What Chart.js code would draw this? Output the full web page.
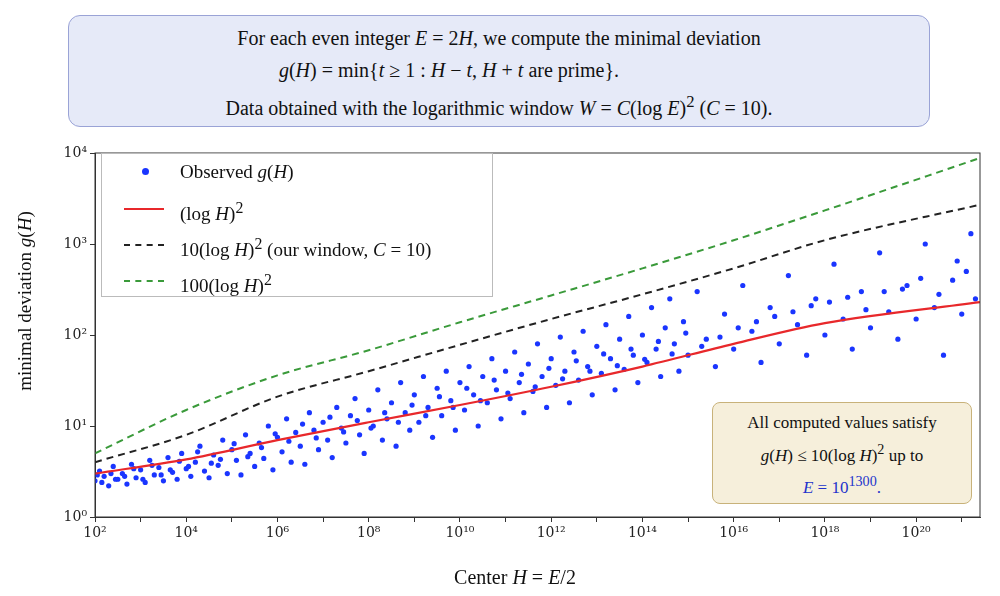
<!DOCTYPE html>
<html><head><meta charset="utf-8">
<script src="https://cdn.jsdelivr.net/npm/chart.js@4"></script>
<style>
body{margin:0;background:#fff;font-family:"Liberation Serif",serif;}
#wrap{position:relative;width:1000px;height:596px;}
canvas{position:absolute;left:0;top:0;}
.box{position:absolute;font-size:19px;color:#111;}
#top{left:68px;top:15px;width:862px;height:112px;background:#e6eaf8;border:1.5px solid #9aa3d6;border-radius:12px;box-sizing:border-box;text-align:center;line-height:32px;padding-top:6px;font-size:20px;}
#inset{left:712px;top:402px;width:260px;height:102px;background:#f6efdb;border:1.5px solid #c8b27a;border-radius:8px;box-sizing:border-box;text-align:center;font-size:17px;line-height:27px;padding-top:6px;}
#legend{left:101px;top:153px;width:392px;height:144px;background:#fff;border:1px solid #bbb;box-sizing:border-box;font-size:19px;}
#legend div{height:36px;line-height:36px;position:relative;padding-left:78px;}
#legend span.k{position:absolute;left:22px;top:18px;width:40px;}
#xt{left:400px;top:566px;width:230px;text-align:center;font-size:20px;}
#yt{left:-75px;top:290px;width:200px;text-align:center;font-size:19px;transform:rotate(-90deg);}
i{font-style:italic;}
</style></head><body>
<div id="wrap">
<canvas id="c" width="1000" height="596"></canvas>
<div class="box" id="top">For each even integer <i>E</i> = 2<i>H</i>, we compute the minimal deviation<br>
<span style="margin-left:-100px"><i>g</i>(<i>H</i>) = min{<i>t</i> ≥ 1 : <i>H</i> − <i>t</i>, <i>H</i> + <i>t</i> are prime}.</span><br>
Data obtained with the logarithmic window <i>W</i> = <i>C</i>(log <i>E</i>)<sup>2</sup> (<i>C</i> = 10).</div>
<div class="box" id="legend">
<div><span class="k" style="top:14px;left:40px;width:7px;height:7px;border-radius:50%;background:#1a35ff"></span>Observed <i>g</i>(<i>H</i>)</div>
<div><span class="k" style="border-top:2.5px solid #e8282b"></span>(log <i>H</i>)<sup>2</sup></div>
<div><span class="k" style="border-top:2.5px dashed #222"></span>10(log <i>H</i>)<sup>2</sup> (our window, <i>C</i> = 10)</div>
<div><span class="k" style="border-top:2.5px dashed #3a9a3a"></span>100(log <i>H</i>)<sup>2</sup></div>
</div>
<div class="box" id="inset">All computed values satisfy<br><i>g</i>(<i>H</i>) ≤ 10(log <i>H</i>)<sup>2</sup> up to<br><span style="color:#2233cc"><i>E</i> = 10<sup>1300</sup>.</span></div>
<div class="box" id="xt">Center <i>H</i> = <i>E</i>/2</div>
<div class="box" id="yt">minimal deviation <i>g</i>(<i>H</i>)</div>
</div>
<script>
const obsLogH = [2.0,2.1,2.2,2.3,2.4,2.5,2.6,2.7,2.8,2.9,3.0,3.1,3.2,3.3,3.4,3.5,3.6,3.7,3.8,3.9,4.0,4.1,4.2,4.3,4.4,4.5,4.6,4.7,4.8,4.9,5.0,5.1,5.2,5.3,5.4,5.5,5.6,5.7,5.8,5.9,6.0,6.1,6.2,6.3,6.4,6.5,6.6,6.7,6.8,6.9,7.0,7.1,7.2,7.3,7.4,7.5,7.6,7.7,7.8,7.9,8.0,8.1,8.2,8.3,8.4,8.5,8.6,8.7,8.8,8.9,9.0,9.1,9.2,9.3,9.4,9.5,9.6,9.7,9.8,9.9,10.0,10.1,10.2,10.3,10.4,10.5,10.6,10.7,10.8,10.9,11.0,11.1,11.2,11.3,11.4,11.5,11.6,11.7,11.8,11.9,12.0,12.1,12.2,12.3,12.4,12.5,12.6,12.7,12.8,12.9,13.0,13.1,13.2,13.3,13.4,13.5,13.6,13.7,13.8,13.9,14.0,14.1,14.2,14.3,14.4,14.5,14.6,14.7,14.8,14.9,15.0,15.2,15.4,15.6,15.8,16.0,16.2,16.4,16.6,16.8,17.0,17.2,17.4,17.6,17.8,18.0,18.2,18.4,18.6,18.8,19.0,19.2,19.4,19.6,19.8,20.0,20.2,20.4,20.6,20.8,21.0,21.2,21.3];
const obsG = [2.5,3.2,2.8,2.2,3.6,2.6,3.0,2.3,3.8,2.7,3.3,2.4,4.2,2.9,3.5,2.5,4.5,3.1,2.6,5.0,3.4,2.8,4.0,6.0,3.2,2.7,4.8,3.7,7.0,3.0,5.5,4.2,2.9,8.0,5.0,3.6,6.5,4.4,10,3.3,7.5,5.2,12,4.0,8.5,6.0,3.8,14,9.0,5.5,11,7.0,4.5,16,9.5,6.5,13,20,8.0,5.0,15,10,25,7.0,12,18,6.0,30,14,9.0,22,11,35,16,7.5,26,13,40,19,9.0,30,15,45,22,10,35,18,55,25,12,40,20,65,30,14,48,24,80,35,16,55,28,95,40,18,65,32,110,45,22,75,38,130,55,25,90,42,160,60,30,100,50,200,70,35,120,250,80,40,140,60,300,90,45,170,70,350,110,50,200,80,450,130,60,250,100,600,150,70,300,120,800,180,90,350,150,1000,200,60,400,170,1300,250];
// second pass of observations, interleaved between the first
const obs2LogH = [2.05,2.15,2.35,2.45,2.65,2.85,3.05,3.25,3.45,3.65,3.85,4.05,4.25,4.55,4.75,5.05,5.35,5.65,5.95,6.25,6.55,6.85,7.15,7.45,7.75,8.05,8.35,8.65,8.95,9.25,9.55,9.85,10.15,10.45,10.75,11.05,11.35,11.65,11.95,12.25,12.55,12.85,13.15,13.45,13.75,14.05,14.35,14.65,14.95,15.3,15.7,16.1,16.5,16.9,17.3,17.7,18.1,18.5,18.9,19.3,19.7,20.1,20.5,20.9,21.1];
const obs2G = [2.9,2.4,3.0,2.6,2.8,3.4,2.6,3.7,2.9,3.3,4.1,3.6,5.2,3.9,4.3,6.4,4.6,5.8,8.2,6.8,10.5,7.4,12.5,8.6,11.5,9.5,14,11,17,13,21,16,26,19,32,23,37,27,43,33,52,40,62,46,70,54,85,62,105,75,95,120,140,160,180,210,230,260,190,300,320,420,280,650,500];
const curveLogH = [2,4,6,8,10,12,14,16,18,21.4];
const redG   = [3,4.3,7,11,17,27,45,80,135,230];
const blackG = [4,8,21,40,78,150,280,540,1100,2700];
const greenG = [5,15,36,68,138,272,540,1100,2340,8800];
const sup = {'0':'⁰','1':'¹','2':'²','3':'³','4':'⁴','5':'⁵','6':'⁶','7':'⁷','8':'⁸','9':'⁹'};
const pow = e => '10' + String(e).split('').map(d => sup[d]).join('');
const pts = (xs, ys) => xs.map((x, i) => ({x: Math.pow(10, x), y: ys[i]}));

const frame = {
  id: 'frame',
  afterDraw(ch) {
    const a = ch.chartArea, c = ch.ctx;
    c.save(); c.strokeStyle = '#333'; c.lineWidth = 1;
    c.strokeRect(a.left, a.top, a.right - a.left, a.bottom - a.top);
    c.restore();
  }
};

const tickFont = {family: 'DejaVu Serif', size: 14};
new Chart(document.getElementById('c'), {
  type: 'scatter',
  data: {datasets: [
    {data: pts(obsLogH, obsG).concat(pts(obs2LogH, obs2G)), backgroundColor: '#1a35ff', pointRadius: 2.6, borderWidth: 0, order: 4},
    {data: pts(curveLogH, greenG), showLine: true, borderColor: '#3a9a3a', borderDash: [7, 5], borderWidth: 2, pointRadius: 0, cubicInterpolationMode: 'monotone', order: 3},
    {data: pts(curveLogH, blackG), showLine: true, borderColor: '#222', borderDash: [7, 5], borderWidth: 2, pointRadius: 0, cubicInterpolationMode: 'monotone', order: 2},
    {data: pts(curveLogH, redG), showLine: true, borderColor: '#e8282b', borderWidth: 2.2, pointRadius: 0, cubicInterpolationMode: 'monotone', order: 1}
  ]},
  options: {
    responsive: false, animation: false,
    layout: {padding: {top: 153, right: 20}},
    plugins: {legend: {display: false}, tooltip: {enabled: false}},
    scales: {
      x: {type: 'logarithmic', min: 100, max: Math.pow(10, 21.4),
        grid: {drawOnChartArea: false, color: '#333', tickLength: 5},
        border: {color: '#333'},
        afterBuildTicks: s => { s.ticks = []; for (let e = 2; e <= 21; e++) s.ticks.push({value: Math.pow(10, e)}); },
        afterFit: s => { s.height = 79; },
        ticks: {color: '#222', font: tickFont, maxRotation: 0, autoSkip: false,
          callback: v => { const e = Math.round(Math.log10(v)); return e % 2 === 0 ? pow(e) : ''; }}},
      y: {type: 'logarithmic', min: 1, max: 10000,
        grid: {drawOnChartArea: false, color: '#333', tickLength: 5},
        border: {color: '#333'},
        afterBuildTicks: s => { s.ticks = [0,1,2,3,4].map(e => ({value: Math.pow(10, e)})); },
        afterFit: s => { s.width = 95; },
        ticks: {color: '#222', font: tickFont,
          callback: v => pow(Math.round(Math.log10(v)))}}
    }
  },
  plugins: [frame]
});
</script>
</body></html>
